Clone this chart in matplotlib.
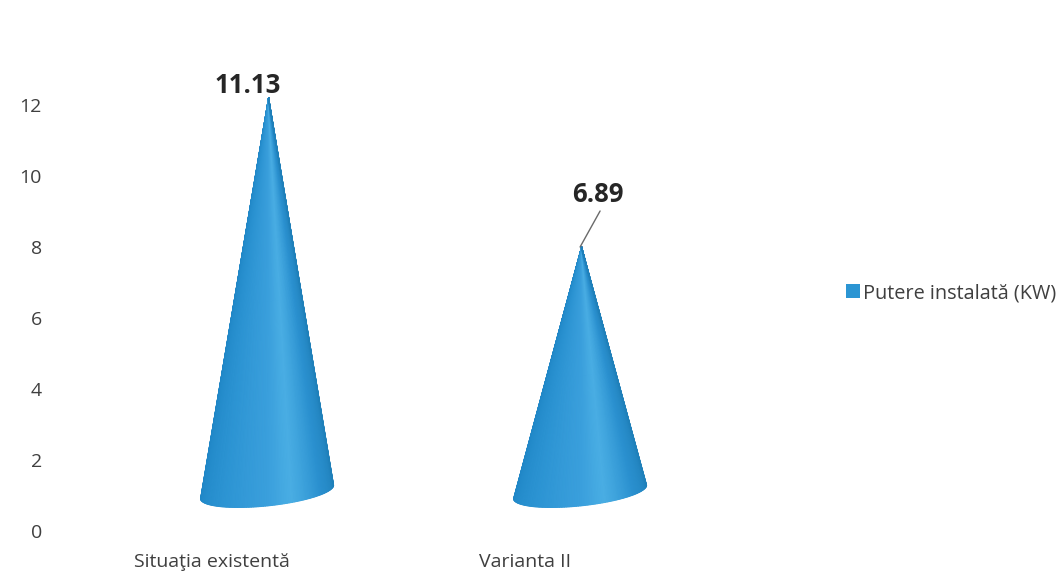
import numpy as np
import matplotlib
matplotlib.use("Agg")
import matplotlib.pyplot as plt
from matplotlib.colors import LinearSegmentedColormap
from matplotlib.patches import Patch

categories = ["Situaţia existentă", "Varianta II"]
values = [11.13, 6.89]
tip_heights = [12.2, 8.0]   # apparent height on the 3D axis scale
y_ticks = [0, 2, 4, 6, 8, 10, 12]
series_name = "Putere instalată (KW)"
label_text = ["11.13", "6.89"]

W, H, DPI = 1064, 573, 100
plt.rcParams["font.family"] = ["Open Sans", "DejaVu Sans"]
TEXT = "#3f3f3f"

fig = plt.figure(figsize=(W / DPI, H / DPI), dpi=DPI)
L, R, B, T = 60, 800, 531, 60
ax = fig.add_axes([L / W, 1 - B / H, (R - L) / W, (B - T) / H])
PX_X, PX_Y = 313.0, 35.5
ax.set_xlim((L - 212) / PX_X, (R - 212) / PX_X)
ax.set_ylim(0, (B - T) / PX_Y)
for s in ax.spines.values():
    s.set_visible(False)
ax.set_yticks(y_ticks)
ax.set_xticks(range(len(categories)))
ax.set_xticklabels(categories)
ax.tick_params(axis="y", length=0, pad=13, labelsize=14, labelcolor=TEXT)
ax.tick_params(axis="x", length=0, pad=15.5, labelsize=14, labelcolor=TEXT)

cmap = LinearSegmentedColormap.from_list(
    "cone",
    [(0.0, "#1f86c6"), (0.25, "#2b93d2"), (0.5, "#3a9fdc"),
     (0.62, "#4aaee4"), (0.8, "#2a90cf"), (1.0, "#1f80ba")],
)

DX = 0.176          # 3D depth shift of the cones
BASE_Y = 1.1        # centre height of the base ellipse
A = 66.5 / PX_X     # half width of base
Bb = 14.0 / PX_Y    # half height of base ellipse
TILT = 0.19         # rise of the right side of the ellipse
N = 120
for i, top in enumerate(tip_heights):
    cx = i + DX
    tipx = cx + 1.5 / PX_X
    t = np.linspace(np.pi, 2 * np.pi, N + 1)
    ex = cx + A * np.cos(t)
    ey = BASE_Y + Bb * np.sin(t) + TILT * np.cos(t)
    f = np.linspace(0, 1, 3)[:, None]
    X = tipx + f * (ex - tipx)
    Y = top + f * (ey - top)
    C = np.tile(np.linspace(0, 1, N + 1), (3, 1))
    ax.pcolormesh(X, Y, C, shading="gouraud", cmap=cmap, vmin=0, vmax=1, zorder=2)

# data labels
ax.annotate(label_text[0], xy=(0 + DX, tip_heights[0]),
            xytext=(-19 * 0.72, 12 * 0.72), textcoords="offset points",
            ha="center", va="center", fontsize=18.5, fontweight="bold", color="#262626")
ax.annotate(label_text[1], xy=(1 + DX, tip_heights[1]),
            xytext=(18 * 0.72, 52 * 0.72), textcoords="offset points",
            ha="center", va="center", fontsize=18.5, fontweight="bold", color="#262626")
ax.annotate("", xy=(1 + DX, tip_heights[1]), xytext=(20 * 0.72, 36 * 0.72),
            textcoords="offset points",
            arrowprops=dict(arrowstyle="-", color="#6a6a6a", lw=1.0, shrinkA=0, shrinkB=0))

fig.legend(handles=[Patch(facecolor="#2b95d3", edgecolor="none", label=series_name)],
           loc="center left", bbox_to_anchor=(846 / W, 1 - 293 / H), frameon=False,
           fontsize=14.3, labelcolor=TEXT, handlelength=0.68, handleheight=0.65,
           handletextpad=0.2, borderpad=0, borderaxespad=0)

fig.savefig("out.png", dpi=DPI, facecolor="white")
